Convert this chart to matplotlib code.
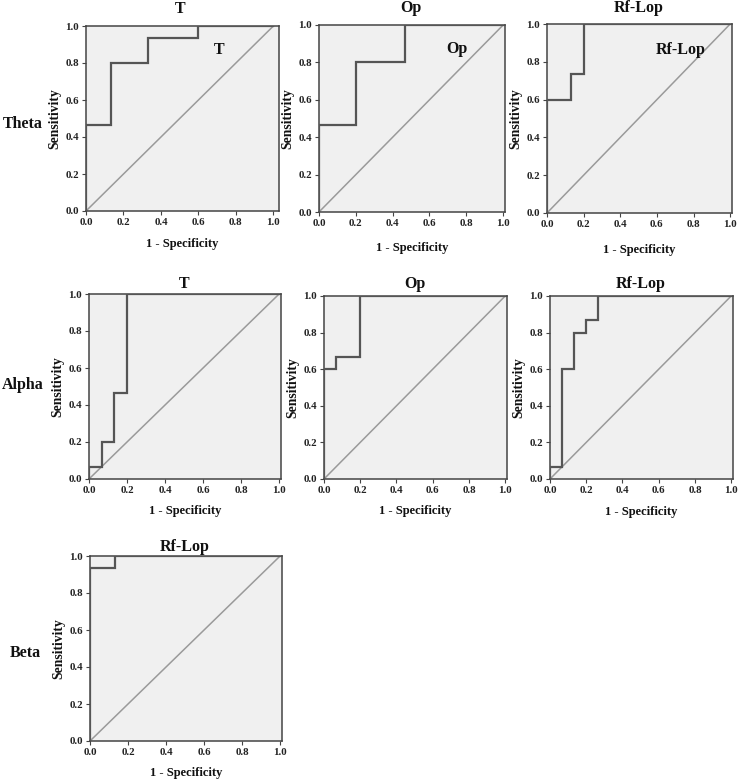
import matplotlib
matplotlib.use("Agg")
import matplotlib.pyplot as plt
from matplotlib.transforms import blended_transform_factory

# ---- data (ROC curve corner points) ----
rows = ["Theta", "Alpha", "Beta"]
panel_titles = ["T", "Op", "Rf-Lop", "T", "Op", "Rf-Lop", "Rf-Lop"]
panel_rows = ["Theta", "Theta", "Theta", "Alpha", "Alpha", "Alpha", "Beta"]

theta_t_fpr = [0, 0, 0.133, 0.133, 0.333, 0.333, 0.6, 0.6, 1.0]
theta_t_tpr = [0, 0.467, 0.467, 0.8, 0.8, 0.933, 0.933, 1.0, 1.0]
theta_op_fpr = [0, 0, 0.2, 0.2, 0.467, 0.467, 1.0]
theta_op_tpr = [0, 0.467, 0.467, 0.8, 0.8, 1.0, 1.0]
theta_rf_fpr = [0, 0, 0.133, 0.133, 0.2, 0.2, 1.0]
theta_rf_tpr = [0, 0.6, 0.6, 0.733, 0.733, 1.0, 1.0]
alpha_t_fpr = [0, 0, 0.067, 0.067, 0.133, 0.133, 0.2, 0.2, 1.0]
alpha_t_tpr = [0, 0.067, 0.067, 0.2, 0.2, 0.467, 0.467, 1.0, 1.0]
alpha_op_fpr = [0, 0, 0.067, 0.067, 0.2, 0.2, 1.0]
alpha_op_tpr = [0, 0.6, 0.6, 0.667, 0.667, 1.0, 1.0]
alpha_rf_fpr = [0, 0, 0.067, 0.067, 0.133, 0.133, 0.2, 0.2, 0.267, 0.267, 1.0]
alpha_rf_tpr = [0, 0.067, 0.067, 0.6, 0.6, 0.8, 0.8, 0.867, 0.867, 1.0, 1.0]
beta_rf_fpr = [0, 0, 0.133, 0.133, 1.0]
beta_rf_tpr = [0, 0.933, 0.933, 1.0, 1.0]

ticks = [0.0, 0.2, 0.4, 0.6, 0.8, 1.0]
tick_labels = ["0.0", "0.2", "0.4", "0.6", "0.8", "1.0"]
inner_labels = ["T", "Op", "Rf-Lop", None, None, None, None]

curves = [(theta_t_fpr, theta_t_tpr), (theta_op_fpr, theta_op_tpr),
          (theta_rf_fpr, theta_rf_tpr), (alpha_t_fpr, alpha_t_tpr),
          (alpha_op_fpr, alpha_op_tpr), (alpha_rf_fpr, alpha_rf_tpr),
          (beta_rf_fpr, beta_rf_tpr)]

# ---- layout (pixels: left, right, top, bottom, xmax, title_baseline, xlabel_pad) ----
W, H = 738, 779
rects = [
    (86, 279, 26, 211, 1.03, 13, 8),
    (319, 505, 25, 212, 1.01, 12, 10),
    (547, 732, 24, 213, 1.01, 12, 11),
    (89, 281, 294, 479, 1.01, 288, 7),
    (324, 507, 296, 479, 1.01, 288, 7),
    (550, 733, 296, 479, 1.01, 288, 8),
    (90, 282, 556, 741, 1.01, 551, 7),
]
inner_pos = [(0.71, 0.87), (0.75, 0.87), (0.73, 0.86)]
row_label_pos = {"Theta": (3, 124), "Alpha": (2, 385), "Beta": (10, 653)}

serif = ["Liberation Serif", "DejaVu Serif"]
fig = plt.figure(figsize=(W / 100, H / 100), dpi=100)
fig.patch.set_facecolor("white")

for i, (fpr, tpr) in enumerate(curves):
    l, r, t, b, xmax, tb, xpad = rects[i]
    ax = fig.add_axes([l / W, 1 - b / H, (r - l) / W, (b - t) / H])
    ax.set_facecolor("#f0f0f0")
    ax.plot([0, 1], [0, 1], color="#9a9a9a", lw=1.1, zorder=2)
    ax.plot(fpr, tpr, color="#555555", lw=1.6, zorder=3, solid_joinstyle="miter")
    ax.set_xlim(0, xmax)
    ax.set_ylim(0, 1.0)
    ax.set_xticks(ticks)
    ax.set_yticks(ticks)
    ax.set_xticklabels(tick_labels, fontfamily=serif, fontweight="bold", fontsize=7.8)
    ax.set_yticklabels(tick_labels, fontfamily=serif, fontweight="bold", fontsize=7.8)
    ax.tick_params(direction="out", length=3, width=0.8, pad=2, colors="#444444",
                   labelcolor="#222222")
    for s in ax.spines.values():
        s.set_color("#444444")
        s.set_linewidth(1.1)
    ax.set_xlabel("1 - Specificity", fontfamily=serif, fontweight="bold", fontsize=9,
                  labelpad=xpad, color="#111111")
    ax.set_ylabel("Sensitivity", fontfamily=serif, fontweight="bold", fontsize=9.8,
                  labelpad=3, color="#111111")
    # title centred over data range 0..1
    trans = blended_transform_factory(ax.transData, fig.transFigure)
    ax.text(0.5, 1 - tb / H, panel_titles[i], transform=trans, ha="center",
            va="baseline", fontfamily=serif, fontweight="bold", fontsize=11.5,
            color="#111111")
    if inner_labels[i] is not None:
        px, py = inner_pos[i]
        ax.text(px, py, inner_labels[i], ha="center", va="center", fontfamily=serif,
                fontweight="bold", fontsize=11.5, color="#111111", zorder=4)

for name in rows:
    x, y = row_label_pos[name]
    fig.text(x / W, 1 - y / H, name, ha="left", va="center", fontfamily=serif,
             fontweight="bold", fontsize=11.5, color="#111111")

fig.savefig("out.png", dpi=100)
